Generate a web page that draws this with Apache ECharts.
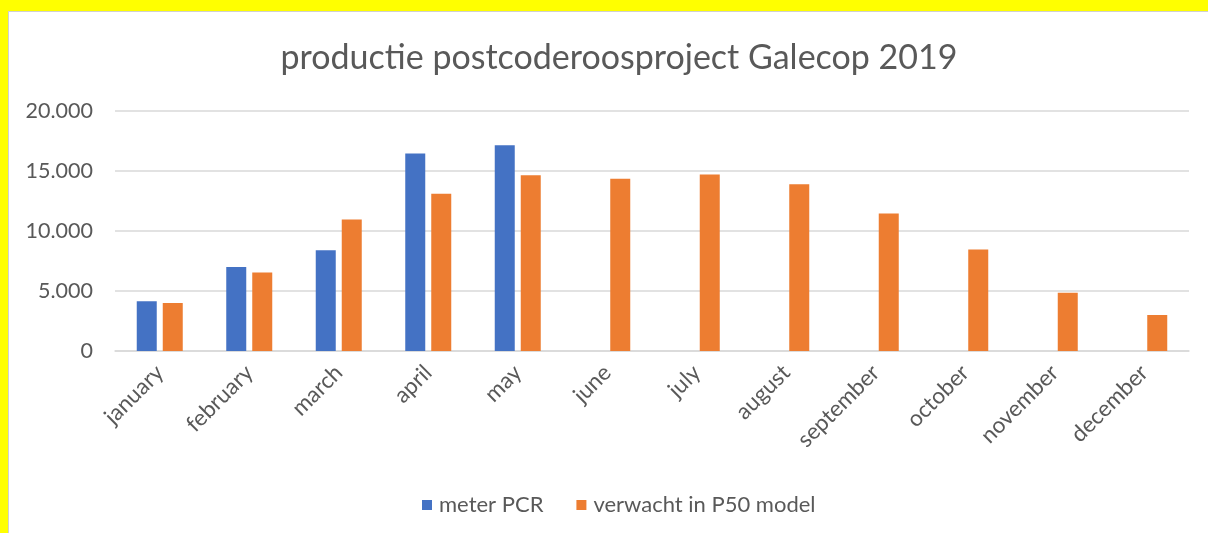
<!DOCTYPE html>
<html>
<head>
<meta charset="utf-8">
<script src="https://cdn.jsdelivr.net/npm/echarts@6/dist/echarts.min.js"></script>
<style>
  html, body { margin: 0; padding: 0; background: #ffff00; overflow: hidden; }
  #chart {
    position: absolute; left: 8px; top: 11px; width: 1200px; height: 522px;
    background: #fff; border-left: 1px solid #d0d0d0; border-top: 1px solid #d0d0d0;
  }
</style>
</head>
<body>
<div id="chart"></div>
<script>
const months = ['january', 'february', 'march', 'april', 'may', 'june', 'july',
  'august', 'september', 'october', 'november', 'december'];
const meterPCR = [4150, 7000, 8400, 16450, 17150, null, null, null, null, null, null, null];
const verwachtP50 = [4000, 6550, 10950, 13100, 14650, 14350, 14700, 13900, 11450, 8450, 4850, 3000];

const chart = echarts.init(document.getElementById('chart'), null, { renderer: 'canvas' });
const textColor = '#595959';
const font = 'Lato';

chart.setOption({
  animation: false,
  title: {
    text: 'productie postcoderoosproject Galecop 2019',
    left: 605,
    top: 24,
    textAlign: 'center',
    textStyle: { fontFamily: font, fontSize: 34, fontWeight: 'normal', color: textColor }
  },
  color: ['#4472C4', '#ED7D31'],
  legend: {
    data: ['meter PCR', 'verwacht in P50 model'],
    left: 408,
    top: 477,
    icon: 'rect',
    itemWidth: 10,
    itemHeight: 10,
    itemGap: 33,
    textStyle: { fontFamily: font, fontSize: 22, color: textColor, padding: [0, 0, 0, 2] }
  },
  grid: { left: 106, top: 99, width: 1074, height: 240, containLabel: false },
  xAxis: {
    type: 'category',
    data: months,
    axisLine: { lineStyle: { color: '#d9d9d9', width: 1.5 } },
    axisTick: { show: false },
    axisLabel: {
      rotate: 45, margin: 18, interval: 0,
      fontFamily: font, fontSize: 22.5, color: textColor
    }
  },
  yAxis: {
    type: 'value',
    min: 0,
    max: 20000,
    interval: 5000,
    axisLine: { show: false },
    axisTick: { show: false },
    splitLine: { lineStyle: { color: '#d9d9d9', width: 1.5 } },
    axisLabel: {
      margin: 22, fontFamily: font, fontSize: 21.5, color: textColor,
      formatter: v => v === 0 ? '0' : v.toLocaleString('de-DE')
    }
  },
  series: [{
    name: 'meter PCR',
    type: 'bar',
    barWidth: 20,
    barGap: '30%',
    data: meterPCR
  }, {
    name: 'verwacht in P50 model',
    type: 'bar',
    barWidth: 20,
    barGap: '30%',
    data: verwachtP50
  }]
});
</script>
</body>
</html>
